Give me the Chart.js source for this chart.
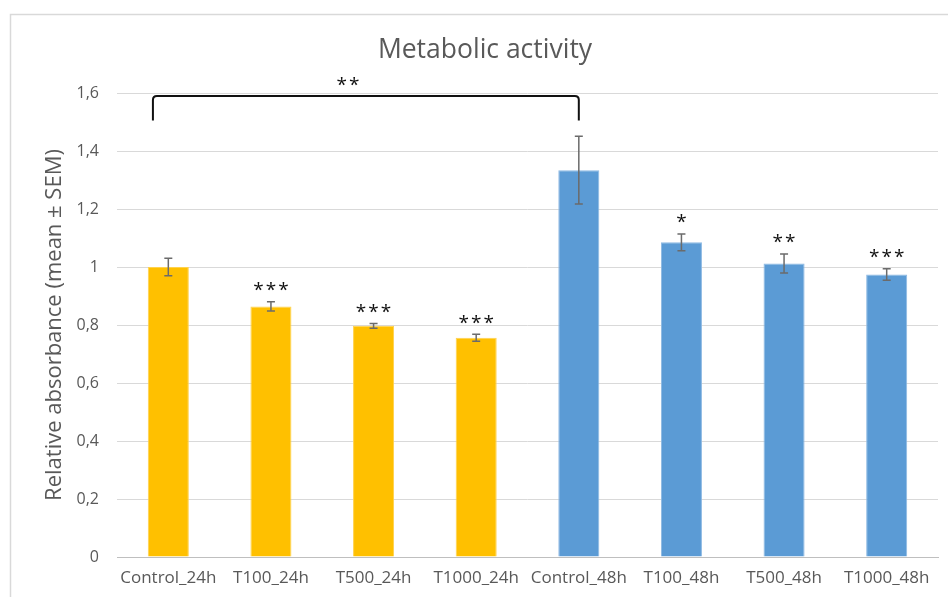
<!DOCTYPE html>
<html>
<head>
<meta charset="utf-8">
<script src="https://cdn.jsdelivr.net/npm/chart.js@4"></script>
<style>
  html, body { margin: 0; padding: 0; background: #ffffff; }
  #wrap { width: 948px; height: 597px; position: relative; }
</style>
</head>
<body>
<div id="wrap"><canvas id="c" width="948" height="597"></canvas></div>
<script>
// ---- data ----
const categories = ['Control_24h', 'T100_24h', 'T500_24h', 'T1000_24h', 'Control_48h', 'T100_48h', 'T500_48h', 'T1000_48h'];
const groups = ['24h', '24h', '24h', '24h', '48h', '48h', '48h', '48h'];
const means = [1.000, 0.864, 0.797, 0.756, 1.334, 1.085, 1.012, 0.974];
const sem = [0.030, 0.016, 0.008, 0.012, 0.117, 0.029, 0.033, 0.020];
const stars = ['', '***', '***', '***', '', '*', '**', '***'];
const yTickLabels = ['0', '0,2', '0,4', '0,6', '0,8', '1', '1,2', '1,4', '1,6'];
// bracket between Control_24h and Control_48h (category index range, y values)
const bracketFrom = [-0.15];
const bracketTo = [4];
const bracketTop = [1.59];
const bracketBottom = [1.505];
const bracketLabel = ['**'];
const bracketLabelAt = [1.75];

const titleText = 'Metabolic activity';
const yTitleText = 'Relative absorbance (mean \u00B1 SEM)';

const FONT = "'Open Sans', 'DejaVu Sans', sans-serif";
const groupFill = { '24h': '#FFC000', '48h': '#5B9BD5' };
const groupBorder = { '24h': '#FFD24D', '48h': '#8DB9E3' };

const annotations = {
  id: 'annotations',
  beforeDraw(chart) {
    const ctx = chart.ctx;
    ctx.save();
    ctx.fillStyle = '#ffffff';
    ctx.fillRect(0, 0, chart.width, chart.height);
    ctx.strokeStyle = '#d9d9d9';
    ctx.lineWidth = 1.5;
    ctx.strokeRect(10.5, 14.5, chart.width + 20, chart.height + 20);
    ctx.restore();
  },
  afterDatasetsDraw(chart) {
    const ctx = chart.ctx;
    const xs = chart.scales.x, ys = chart.scales.y;
    ctx.save();
    // error bars
    ctx.strokeStyle = '#6b6b6b';
    ctx.lineWidth = 1.5;
    means.forEach((m, i) => {
      const x = xs.getPixelForValue(i);
      const yt = ys.getPixelForValue(m + sem[i]);
      const yb = ys.getPixelForValue(m - sem[i]);
      ctx.beginPath();
      ctx.moveTo(x, yt); ctx.lineTo(x, yb);
      ctx.moveTo(x - 4, yt); ctx.lineTo(x + 4, yt);
      ctx.moveTo(x - 4, yb); ctx.lineTo(x + 4, yb);
      ctx.stroke();
    });
    // significance stars
    ctx.fillStyle = '#111111';
    ctx.font = '19px ' + FONT;
    ctx.textAlign = 'center';
    ctx.textBaseline = 'middle';
    if ('letterSpacing' in ctx) ctx.letterSpacing = '2px';
    stars.forEach((s, i) => {
      if (!s) return;
      const x = xs.getPixelForValue(i);
      const yt = ys.getPixelForValue(means[i] + sem[i]);
      ctx.fillText(s, x + 1, yt - 11);
    });
    // bracket
    ctx.strokeStyle = '#111111';
    ctx.lineWidth = 2;
    ctx.lineJoin = 'round';
    bracketFrom.forEach((f, k) => {
      const x1 = xs.getPixelForValue(f);
      const x2 = xs.getPixelForValue(bracketTo[k]);
      const yT = ys.getPixelForValue(bracketTop[k]);
      const yB = ys.getPixelForValue(bracketBottom[k]);
      const r = 4;
      ctx.beginPath();
      ctx.moveTo(x1, yB);
      ctx.lineTo(x1, yT + r);
      ctx.quadraticCurveTo(x1, yT, x1 + r, yT);
      ctx.lineTo(x2 - r, yT);
      ctx.quadraticCurveTo(x2, yT, x2, yT + r);
      ctx.lineTo(x2, yB);
      ctx.stroke();
      ctx.fillText(bracketLabel[k], xs.getPixelForValue(bracketLabelAt[k]) + 1, yT - 10);
    });
    if ('letterSpacing' in ctx) ctx.letterSpacing = '0px';
    // title
    ctx.fillStyle = '#595959';
    ctx.font = '26.5px ' + FONT;
    ctx.textBaseline = 'middle';
    ctx.fillText(titleText, 485, 50);
    ctx.restore();
  }
};

new Chart(document.getElementById('c'), {
  type: 'bar',
  data: {
    labels: categories,
    datasets: [{
      data: means,
      backgroundColor: groups.map(g => groupFill[g]),
      borderColor: groups.map(g => groupBorder[g]),
      borderWidth: 1,
      barPercentage: 0.8,
      categoryPercentage: 0.5
    }]
  },
  options: {
    responsive: false,
    animation: false,
    devicePixelRatio: 1,
    layout: { padding: { top: 93, left: 10, right: 10, bottom: 0 } },
    plugins: { legend: { display: false }, tooltip: { enabled: false }, title: { display: false } },
    scales: {
      x: {
        offset: true,
        grid: { display: false, drawTicks: false },
        border: { display: true, color: '#bfbfbf', width: 1 },
        ticks: { color: '#595959', font: { family: FONT, size: 17 }, padding: 11, maxRotation: 0, autoSkip: false },
        afterFit(scale) { scale.height = 40; }
      },
      y: {
        min: 0, max: 1.6,
        grid: { color: '#d9d9d9', lineWidth: 1, drawTicks: false },
        border: { display: false },
        ticks: {
          stepSize: 0.2,
          padding: 18,
          color: '#595959',
          font: { family: FONT, size: 16 },
          callback: (v, i) => yTickLabels[i]
        },
        title: { display: true, text: yTitleText, color: '#595959', font: { family: FONT, size: 22 }, padding: { top: 32, bottom: 0 } },
        afterFit(scale) { scale.width = 107; }
      }
    }
  },
  plugins: [annotations]
});
</script>
</body>
</html>
